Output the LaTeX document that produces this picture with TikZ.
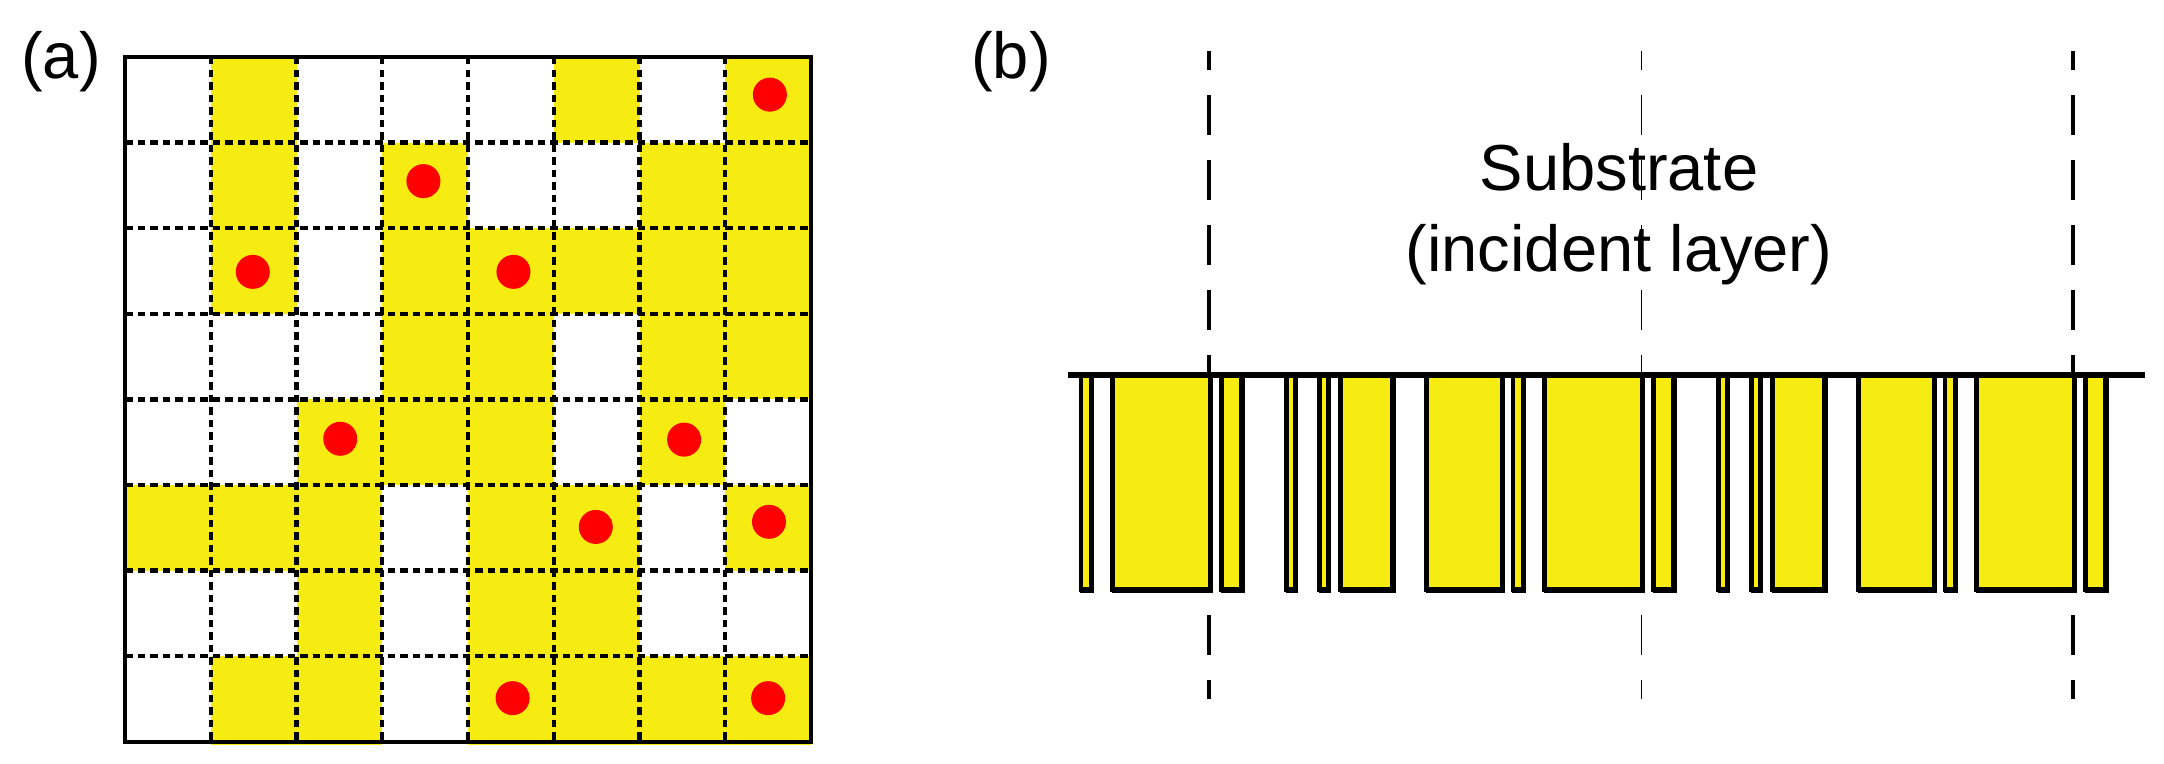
\documentclass[tikz,border=0pt]{standalone}
\usepackage{fontspec}
\setmainfont{Liberation Sans}
\definecolor{cellyellow}{RGB}{246,236,18}
\begin{document}
\begin{tikzpicture}[x=0.01cm,y=-0.01cm,
  lbl/.style={inner sep=0pt, font=\fontsize{18.5}{23}\selectfont},
  gridline/.style={line width=0.043cm, dash pattern=on 0.075cm off 0.05cm},
  frameline/.style={line width=0.033cm},
  barbox/.style={fill=cellyellow, draw=black, line width=0.045cm},
  barshadow/.style={fill=black},
  periodline/.style={line width=0.042cm, dash pattern=on 0.4cm off 0.25cm, dash phase=0.21cm},
  thinperiod/.style={periodline, line width=0.015cm},
  surface/.style={line width=0.052cm},
  dotmark/.style={fill=red}
]
\useasboundingbox (0,0) rectangle (2164,764);

% ---------- panel (a) ----------
\foreach \r/\cols in {1/{2,6,8},2/{2,4,7,8},3/{2,4,5,6,7,8},4/{4,5,7,8},5/{3,4,5,7},6/{1,2,3,5,6,8},7/{3,5,6},8/{2,3,5,6,7,8}}{
  \foreach \c in \cols {
    \fill[cellyellow] ({125+(\c-1)*85.75},{57+(\r-1)*85.6}) rectangle +(85.75,85.6);
  }
}
\foreach \c in {2,3,5,6,7,8}{
  \fill[cellyellow] ({125+(\c-1)*85.75},740) rectangle +(85.75,5);
}
\foreach \k in {1,...,7}{
  \draw[gridline] ({125+\k*85.75},57) -- ({125+\k*85.75},742);
  \draw[gridline] (125,{57+\k*85.6}) -- (811,{57+\k*85.6});
}
\draw[frameline] (125,57) rectangle (811,742);
\draw[line width=0.045cm] (811,57) -- (811,742);
\foreach \c/\r/\fx/\fy in {8/1/0.52/0.44, 4/2/0.48/0.45, 2/3/0.49/0.51, 5/3/0.53/0.51, 3/5/0.51/0.46, 7/5/0.52/0.47, 6/6/0.49/0.49, 8/6/0.51/0.43, 5/8/0.52/0.49, 8/8/0.50/0.49}{
  \fill[dotmark] ({125+(\c-1+\fx)*85.75},{57+(\r-1+\fy)*85.6}) circle[radius=0.17cm];
}
\node[lbl, anchor=base west] (la) at (20.5,79) {(a)};

% ---------- panel (b) ----------
\draw[periodline] (1209,51) -- (1209,699);
\draw[thinperiod] (1641.5,51) -- (1641.5,699);
\draw[periodline] (2073,51) -- (2073,699);
\foreach \a/\b in {1078.5/1094, 1110/1213,
  1219/1244.5, 1284/1298, 1317/1331, 1338/1395.5, 1424/1505, 1510.5/1526, 1542/1645,
  1651/1676.5, 1716/1730, 1749/1763, 1770/1827.5, 1856/1937, 1942.5/1958, 1974/2077,
  2083/2108.5}{
  \fill[barshadow] ({\a+1.5},376) rectangle (\b,592.7);
  \draw[barbox] ({\a+2.25},376) rectangle ({\b-3.25},589.5);
}
\coordinate (sl) at (1068,375);
\coordinate (sr) at (2145,375);
\draw[surface] (sl) -- (sr);
\node[lbl, anchor=base] (sub1) at (1619,190.7) {Substrate};
\node[lbl, anchor=base] (sub2) at (1619,271.7) {(incident layer)};
\node[lbl, anchor=base west] (lb) at (970.5,79) {(b)};
\end{tikzpicture}
\end{document}
